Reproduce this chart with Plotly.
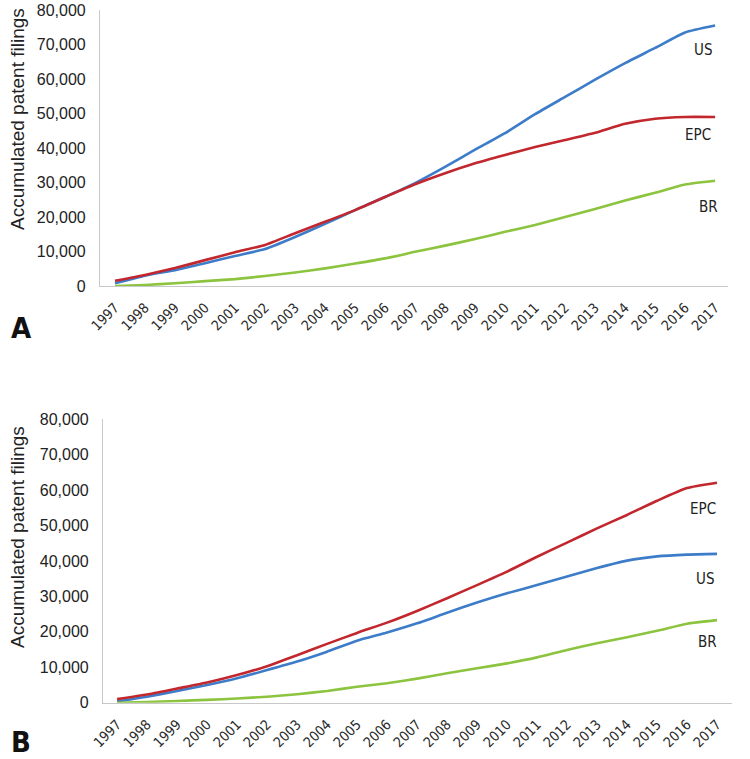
import plotly.graph_objects as go

years = list(range(1997, 2018))
year_labels = [str(y) for y in years]

# Panel A
a_us = [800, 3000, 4600, 6600, 8700, 10700, 14200, 18000, 22000, 25800, 29800, 34500, 39500,
        44300, 49800, 54800, 59800, 64600, 69000, 73500, 75500]
a_epc = [1500, 3200, 5200, 7500, 9800, 11900, 15300, 18600, 22000, 25800, 29500, 32700, 35600,
         38000, 40300, 42300, 44400, 47000, 48500, 49000, 49000]
a_br = [0, 300, 800, 1400, 2000, 2900, 3900, 5100, 6500, 8000, 9900, 11700, 13600,
        15700, 17700, 20000, 22300, 24800, 27000, 29400, 30500]

# Panel B
b_us = [400, 1700, 3300, 5000, 6900, 9200, 11600, 14400, 17500, 19800, 22400, 25400, 28300,
        30900, 33200, 35600, 38000, 40100, 41300, 41800, 42000]
b_epc = [1000, 2300, 4000, 5700, 7800, 10300, 13400, 16600, 19700, 22600, 25900, 29500, 33200,
         37000, 41200, 45200, 49200, 53000, 57000, 60600, 62100]
b_br = [0, 200, 500, 800, 1200, 1700, 2400, 3300, 4500, 5500, 6800, 8300, 9700,
        11100, 12800, 14900, 16800, 18500, 20300, 22300, 23300]

y_ticks = [0, 10000, 20000, 30000, 40000, 50000, 60000, 70000, 80000]
y_tick_labels = ["0", "10,000", "20,000", "30,000", "40,000", "50,000", "60,000", "70,000", "80,000"]

BLUE = "#3d7cc9"
RED = "#c1272d"
GREEN = "#8cc43f"

W, H = 750, 759

def px_(x):
    return x / W

def py(y):
    return 1 - y / H

fig = go.Figure()

for data, color, name in [(a_us, BLUE, "US"), (a_epc, RED, "EPC"), (a_br, GREEN, "BR")]:
    fig.add_trace(go.Scatter(x=years, y=data, mode="lines", name=name,
                             line=dict(color=color, width=2.6, shape="spline", smoothing=0.5),
                             xaxis="x", yaxis="y", showlegend=False))
for data, color, name in [(b_us, BLUE, "US"), (b_epc, RED, "EPC"), (b_br, GREEN, "BR")]:
    fig.add_trace(go.Scatter(x=years, y=data, mode="lines", name=name,
                             line=dict(color=color, width=2.6, shape="spline", smoothing=0.5),
                             xaxis="x2", yaxis="y2", showlegend=False))

xcommon = dict(tickmode="array", tickvals=years, ticktext=year_labels, tickangle=-45,
               showgrid=False, zeroline=False, showline=True, linecolor="#c8c8c8", linewidth=1.2,
               ticks="outside", ticklen=7, tickcolor="rgba(0,0,0,0)", automargin=False,
               tickfont=dict(family="DejaVu Sans Condensed", size=14, color="#2b2b2b"))
ycommon = dict(tickmode="array", tickvals=y_ticks, ticktext=y_tick_labels, range=[0, 80000],
               showgrid=False, zeroline=False, showline=True, linecolor="#c8c8c8", linewidth=1.2,
               ticks="outside", ticklen=10, tickcolor="rgba(0,0,0,0)", automargin=False,
               tickfont=dict(family="Liberation Sans", size=16, color="#222222"))

fig.update_layout(
    width=W, height=H,
    margin=dict(l=0, r=0, t=0, b=0, pad=0, autoexpand=False),
    plot_bgcolor="white", paper_bgcolor="white",
    xaxis=dict(domain=[px_(100), px_(728)], range=[1996.5, 2017.43], anchor="y", **xcommon),
    yaxis=dict(domain=[py(286), py(10)], anchor="x", **ycommon),
    xaxis2=dict(domain=[px_(103), px_(732)], range=[1996.53, 2017.5], anchor="y2", **xcommon),
    yaxis2=dict(domain=[py(702.7), py(419.3)], anchor="x2", **ycommon),
)

annots = []
lab_font = dict(family="DejaVu Sans Condensed", size=15, color="#222222")
for txt, x, y in [("US", 703, 50), ("EPC", 698, 135), ("BR", 708, 207),
                  ("EPC", 703, 509), ("US", 705, 579), ("BR", 707, 642)]:
    annots.append(dict(text=txt, x=px_(x), y=py(y), xref="paper", yref="paper",
                       showarrow=False, font=lab_font, xanchor="center", yanchor="middle"))
for y in [119, 537]:
    annots.append(dict(text="Accumulated patent filings", x=px_(17), y=py(y), xref="paper", yref="paper",
                       showarrow=False, textangle=-90, xanchor="center", yanchor="middle",
                       font=dict(family="Liberation Sans", size=19, color="#222222")))
for txt, y in [("A", 328), ("B", 742)]:
    annots.append(dict(text="<b>" + txt + "</b>", x=px_(21), y=py(y), xref="paper", yref="paper",
                       showarrow=False, xanchor="center", yanchor="middle",
                       font=dict(family="DejaVu Sans Condensed", size=29, color="#111111")))
fig.update_layout(annotations=annots)

fig.write_html("out.html", config={"displayModeBar": False},
               post_script="document.body.style.margin='0px';document.body.style.overflow='hidden';")
